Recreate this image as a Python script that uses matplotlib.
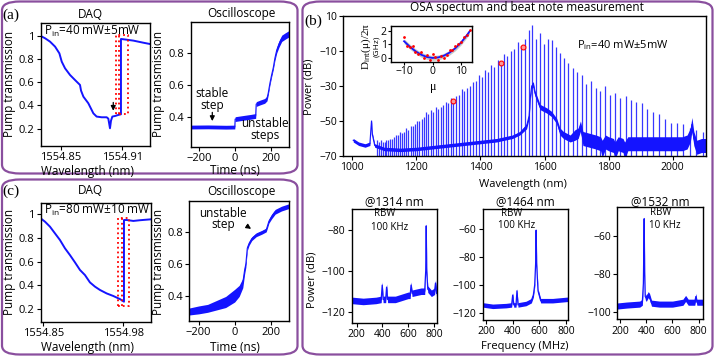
import matplotlib
matplotlib.use("Agg")
import matplotlib.pyplot as plt
from matplotlib.patches import FancyBboxPatch
import numpy as np

plt.rcParams['font.family'] = ['Open Sans', 'DejaVu Sans']
plt.rcParams['mathtext.fontset'] = 'custom'
plt.rcParams['mathtext.rm'] = 'Open Sans'
plt.rcParams['axes.linewidth'] = 1.0
plt.rcParams['axes.unicode_minus'] = True

# ---- data: (a) DAQ sweep, Pin = 40 mW ----
daq_a_wl = [1554.8305, 1554.8348, 1554.8396, 1554.8445, 1554.8487, 1554.8510, 1554.8542,
            1554.8591, 1554.8639, 1554.8688, 1554.8698, 1554.8721, 1554.8769, 1554.8818,
            1554.8850, 1554.8899, 1554.8948, 1554.8964, 1554.8980, 1554.8990, 1554.9003,
            1554.9029, 1554.9061, 1554.9087, 1554.9087, 1554.9116, 1554.9207, 1554.9304, 1554.9367]
daq_a_tr = [1.0, 0.980, 0.951, 0.908, 0.850, 0.778, 0.721, 0.663, 0.620, 0.577, 0.528, 0.476,
            0.419, 0.332, 0.304, 0.298, 0.298, 0.286, 0.203, 0.269, 0.304, 0.309, 0.318, 0.324,
            0.974, 0.971, 0.960, 0.942, 0.931]

# ---- (a) oscilloscope ----
osc_a_t = [-246, -150, -50, -1, 1, 30, 60, 90, 115, 118, 140, 165, 178, 185, 194, 203,
           213, 222, 232, 245, 260, 280, 302]
osc_a_y = [0.335, 0.336, 0.334, 0.335, 0.385, 0.39, 0.395, 0.40, 0.405, 0.48, 0.49, 0.50,
           0.515, 0.55, 0.61, 0.66, 0.71, 0.77, 0.82, 0.86, 0.895, 0.91, 0.925]
osc_a_w = [0.012, 0.012, 0.012, 0.012, 0.015, 0.015, 0.015, 0.015, 0.015, 0.015, 0.015, 0.015,
           0.015, 0.012, 0.012, 0.012, 0.012, 0.015, 0.018, 0.02, 0.02, 0.02, 0.02]

# ---- (c) DAQ sweep, Pin = 80 mW ----
daq_c_wl = [1554.8457, 1554.8527, 1554.8608, 1554.8690, 1554.8771, 1554.8852, 1554.8933,
            1554.9015, 1554.9096, 1554.9177, 1554.9258, 1554.9340, 1554.9421, 1554.9529,
            1554.9638, 1554.9746, 1554.9811, 1554.9811, 1554.9854, 1554.9963, 1555.0071, 1555.0255]
daq_c_tr = [0.966, 0.938, 0.896, 0.839, 0.783, 0.713, 0.656, 0.594, 0.530, 0.487, 0.425,
            0.389, 0.361, 0.332, 0.310, 0.284, 0.262, 0.952, 0.952, 0.944, 0.950, 0.958]

# ---- (c) oscilloscope ----
osc_c_t = [-252, -200, -150, -100, -50, 0, 25, 45, 55, 62, 70, 80, 95, 120, 150, 175,
           182, 190, 205, 225, 260, 300]
osc_c_y = [0.30, 0.31, 0.32, 0.34, 0.36, 0.40, 0.43, 0.48, 0.56, 0.60, 0.70, 0.73, 0.76,
           0.785, 0.80, 0.815, 0.84, 0.87, 0.90, 0.93, 0.95, 0.965]
osc_c_w = [0.022, 0.025, 0.025, 0.03, 0.035, 0.04, 0.035, 0.03, 0.025, 0.02, 0.015, 0.012,
           0.012, 0.012, 0.012, 0.012, 0.012, 0.012, 0.015, 0.015, 0.015, 0.015]

# ---- (b) OSA spectrum: comb lines ----
comb_wl = [2094.9, 2074.1, 2053.7, 2033.7, 2014.1, 1994.8, 1975.9, 1957.4, 1939.2, 1921.4,
           1903.8, 1886.7, 1869.8, 1853.2, 1836.9, 1820.8, 1805.1, 1789.6, 1774.4, 1759.4,
           1744.7, 1730.3, 1716.1, 1702.1, 1688.3, 1674.8, 1661.4, 1648.3, 1635.4, 1622.7,
           1610.2, 1597.8, 1585.7, 1573.8, 1562.0, 1550.4, 1538.9, 1527.7, 1516.6, 1505.7,
           1494.9, 1484.2, 1473.8, 1463.4, 1453.3, 1443.2, 1433.3, 1423.5, 1413.9, 1404.4,
           1395.0, 1385.7, 1376.6, 1367.6, 1358.7, 1349.9, 1341.2, 1332.7, 1324.2, 1315.9,
           1307.6, 1299.5, 1291.4, 1283.5, 1275.7, 1267.9, 1260.3, 1252.7, 1245.2, 1237.8,
           1230.5, 1223.3, 1216.2, 1209.2, 1202.2, 1195.3, 1188.5, 1181.8, 1175.1, 1168.5,
           1162.0, 1155.6, 1149.3, 1143.0, 1136.7, 1130.6, 1124.5, 1118.5, 1112.5, 1106.6,
           1100.8, 1095.0, 1089.3, 1083.6, 1078.0]
comb_db = [-56, -55, -54, -52, -51, -51, -49, -46, -45, -43,
           -40, -39, -38, -36, -37, -34, -35, -30, -33, -31,
           -27, -29, -24, -22, -20, -17, -14, -11, -8, -4,
           -3, -6, 0, -3, 5, 2, -3, -7, -5, -9,
           -10, -13, -12, -17, -15, -19, -18, -22, -21, -25,
           -24, -27, -28, -30, -31, -33, -32, -35, -36, -38,
           -37, -40, -39, -41, -42, -43, -42, -45, -44, -46,
           -45, -48, -49, -50, -50, -52, -53, -53, -55, -54,
           -56, -57, -56, -58, -58, -59, -60, -60, -61, -61,
           -62, -62, -61, -62, -61]

# OSA noise floor (centre and half spread)
floor_wl = [1003, 1020, 1040, 1055, 1058, 1060, 1063, 1070, 1100, 1150, 1200, 1250, 1300,
            1350, 1400, 1450, 1500, 1523, 1544, 1552, 1556, 1560, 1565, 1570, 1586, 1607,
            1622, 1638, 1648, 1659, 1680, 1695, 1705, 1712, 1720, 1740, 1760, 1775,
            1780, 1790, 1800, 1815, 1820, 1830, 1845, 1850, 1860, 1880, 1900, 1950, 2000,
            2030, 2045, 2055, 2060, 2066, 2075, 2090, 2104]
floor_db = [-61, -63, -64, -63, -55, -50, -58, -64, -66, -66.5, -66, -65, -64,
            -63, -62, -61, -59, -57, -53, -47, -36, -30, -29, -34, -42, -44,
            -46, -50, -56, -58, -60, -58, -57, -53, -60, -61, -62, -63,
            -66, -62, -63, -64, -67, -63, -64, -67, -63, -63, -63, -63, -63,
            -63, -62, -58, -52, -60, -65, -64, -64]
floor_sp = [1, 1, 1, 1, 1, 1, 1, 1, 1, 1, 1, 1, 1,
            1, 1, 1, 1, 1, 1.5, 1.5, 1.5, 1.5, 1.5, 1.5, 1.5, 1.5,
            1.5, 1.5, 2, 2, 2, 3, 3, 3, 4, 4, 4, 4,
            5, 4, 4, 4, 5, 4, 4, 5, 4, 4, 4, 4, 4,
            4, 4, 4, 4, 4, 4, 4, 4]

marker_wl = [1314, 1464, 1532]
marker_db = [-38.5, -17, -7.5]

# inset: integrated dispersion
mu_pts = [-10, -9, -8, -7, -6, -5, -4, -3, -2, -1, 0, 1, 2, 3, 4, 5, 6, 7, 8, 9, 10, 11, 12, 13]
dint_pts = [1.5, 0.9, 0.8, 0.9, 0.4, 0.3, 0.4, -0.05, 0.2, -0.2, 0.25, 0.05, -0.15, 0.15,
            0.0, 0.2, 0.55, 0.6, 0.9, 1.0, 1.2, 1.5, 1.7, 2.05]
mu_fit = [-10, -8, -6, -4, -2, 0, 2, 4, 6, 8, 10, 12, 13]
dint_fit = [1.22, 0.82, 0.48, 0.22, 0.05, -0.02, 0.02, 0.15, 0.38, 0.70, 1.12, 1.65, 1.95]

# beat notes
beat1_f = [165, 250, 350, 390, 398, 405, 425, 432, 440, 500, 600, 615, 622, 630, 700, 728,
           736, 740, 744, 752, 780, 805, 812, 820, 826]
beat1_p = [-114.5, -115, -114.5, -114, -107, -114, -114, -108, -114, -114, -112, -112, -107,
           -111, -110, -110, -100, -78, -100, -109, -111, -110, -106, -111, -110]
beat2_f = [175, 250, 350, 392, 400, 408, 425, 432, 440, 500, 540, 555, 565, 572, 576, 580,
           590, 610, 700, 815]
beat2_p = [-114, -115, -114.5, -114, -107, -114, -114, -104, -114, -113, -111, -107, -100,
           -85, -61, -85, -104, -111, -111, -110]
beat3_f = [179, 250, 350, 370, 378, 384, 388, 392, 400, 415, 425, 440, 500, 600, 680, 700,
           720, 770, 778, 786, 835]
beat3_p = [-97, -96.5, -96, -95, -85, -51, -80, -92, -93, -91, -92, -95.5, -96, -96, -95,
           -93, -95, -95, -92, -95, -95]

W, H = 715, 356
BLUE = '#1414ff'
PURPLE = '#8a4f9e'
fig = plt.figure(figsize=(W / 100, H / 100), dpi=100)


def px_axes(l, t, r, b):
    return fig.add_axes([l / W, 1 - b / H, (r - l) / W, (b - t) / H])


def ftext(x, y, s, **kw):
    kw.setdefault('ha', 'center')
    kw.setdefault('va', 'center')
    return fig.text(x / W, 1 - y / H, s, **kw)


def style(ax, fs):
    ax.tick_params(direction='out', length=3, width=0.8, labelsize=fs, pad=1.5)


# rounded frames
for (l, t, r, b) in [(2, 1.5, 297.5, 173.5), (2, 179.5, 297.5, 354.5), (302.5, 1.5, 712.5, 354.5)]:
    fig.patches.append(FancyBboxPatch((l / W, 1 - b / H), (r - l) / W, (b - t) / H,
                                      boxstyle='round,pad=0,rounding_size=0.025',
                                      transform=fig.transFigure, fill=False,
                                      edgecolor=PURPLE, linewidth=1.6))

# ---------- (a) ----------
ax = px_axes(40.7, 23, 149.7, 146)
ax.plot(daq_a_wl, daq_a_tr, color=BLUE, lw=1.4)
ax.plot([1554.9036, 1554.9036, 1554.9152, 1554.9152, 1554.9036],
        [0.324, 1.011, 1.011, 0.324, 0.324], color='red', ls=':', lw=1.3)
ax.plot([1554.9065, 1554.9065], [0.324, 1.011], color='red', ls=':', lw=1.3)
ax.annotate('', xy=(1554.9012, 0.33), xytext=(1554.9012, 0.45),
            arrowprops=dict(arrowstyle='-|>', color='k', lw=0.9, mutation_scale=7))
ax.set_xlim(1554.8305, 1554.9367)
ax.set_ylim(0.05, 1.112)
ax.set_xticks([1554.85, 1554.91], ['1554.85', '1554.91'])
ax.set_yticks([0.2, 0.4, 0.6, 0.8, 1.0], ['0.2', '0.4', '0.6', '0.8', '1'])
style(ax, 8)

ax = px_axes(190.7, 22, 289.3, 147)
lo = np.array(osc_a_y) - np.array(osc_a_w)
hi = np.array(osc_a_y) + np.array(osc_a_w)
ax.fill_between(osc_a_t, lo, hi, color=BLUE, lw=0)
ax.plot(osc_a_t, osc_a_y, color=BLUE, lw=0.8)
ax.annotate('', xy=(-126, 0.355), xytext=(-126, 0.445),
            arrowprops=dict(arrowstyle='-|>', color='k', lw=0.9, mutation_scale=7))
ax.set_xlim(-246, 302)
ax.set_ylim(0.209, 0.998)
ax.set_xticks([-200, 0, 200])
ax.set_yticks([0.4, 0.6, 0.8])
style(ax, 8)

ftext(11, 15, '(a)', family='Liberation Serif', fontsize=11)
ftext(90, 14, 'DAQ', fontsize=8.5)
ftext(241.7, 14, 'Oscilloscope', fontsize=8.5)
ftext(44, 31.5, r'P$_{\rm in}$=40 mW$\pm$5mW', ha='left', fontsize=8.5)
ftext(87.7, 171, 'Wavelength (nm)', fontsize=8.5)
ftext(235, 171, 'Time (ns)', fontsize=8.5)
ftext(9.3, 84, 'Pump transmission', rotation=90, fontsize=8.5)
ftext(158.3, 84, 'Pump transmission', rotation=90, fontsize=8.5)
ftext(211.7, 99.5, 'stable\nstep', fontsize=8.5, linespacing=0.82)
ftext(265, 129.5, 'unstable\nsteps', fontsize=8.5, linespacing=0.82)

# ---------- (c) ----------
ax = px_axes(40.7, 203.3, 151.3, 321.7)
ax.plot(daq_c_wl, daq_c_tr, color=BLUE, lw=1.4)
ax.plot([1554.9722, 1554.9722, 1554.9898, 1554.9898, 1554.9722],
        [0.225, 0.971, 0.971, 0.225, 0.225], color='red', ls=':', lw=1.3)
ax.plot([1554.9771, 1554.9771], [0.225, 0.971], color='red', ls=':', lw=1.3)
ax.set_xlim(1554.8458, 1555.0255)
ax.set_ylim(0.093, 1.093)
ax.set_xticks([1554.85, 1554.98], ['1554.85', '1554.98'])
ax.set_yticks([0.2, 0.4, 0.6, 0.8, 1.0], ['0.2', '0.4', '0.6', '0.8', '1'])
style(ax, 8)

ax = px_axes(189.3, 201, 288.7, 321)
lo = np.array(osc_c_y) - np.array(osc_c_w)
hi = np.array(osc_c_y) + np.array(osc_c_w)
ax.fill_between(osc_c_t, lo, hi, color=BLUE, lw=0)
ax.plot(osc_c_t, osc_c_y, color=BLUE, lw=0.8)
ax.annotate('', xy=(104, 0.812), xytext=(54, 0.85),
            arrowprops=dict(arrowstyle='-|>', color='k', lw=0.9, mutation_scale=7))
ax.set_xlim(-252, 300)
ax.set_ylim(0.24, 0.998)
ax.set_xticks([-200, 0, 200])
ax.set_yticks([0.4, 0.6, 0.8])
style(ax, 8)

ftext(11, 191, '(c)', family='Liberation Serif', fontsize=11)
ftext(90, 191, 'DAQ', fontsize=8.5)
ftext(241.7, 191, 'Oscilloscope', fontsize=8.5)
ftext(44, 210, r'P$_{\rm in}$=80 mW$\pm$10 mW', ha='left', fontsize=8.5)
ftext(87.7, 347.5, 'Wavelength (nm)', fontsize=8.5)
ftext(235, 347.5, 'Time (ns)', fontsize=8.5)
ftext(9.3, 262, 'Pump transmission', rotation=90, fontsize=8.5)
ftext(158.3, 262, 'Pump transmission', rotation=90, fontsize=8.5)
ftext(223.3, 219.3, 'unstable\nstep', fontsize=8.5, linespacing=0.82)

# ---------- (b) OSA ----------
ax = px_axes(343.3, 16, 706, 156)
ax.vlines(comb_wl, -70, comb_db, color=BLUE, lw=0.9, alpha=0.85)
fl = np.array(floor_db)
sp = np.array(floor_sp)
ax.fill_between(floor_wl, fl - sp, fl + sp, color=BLUE, lw=0)
ax.plot(floor_wl, fl, color=BLUE, lw=0.8)
ax.plot(marker_wl, marker_db, 'o', ms=3.5, mfc='#ff9999', mec='red', mew=0.8)
ax.set_xlim(972, 2104)
ax.set_ylim(-70, 10)
ax.set_xticks([1000, 1200, 1400, 1600, 1800, 2000])
ax.set_yticks([10, -10, -30, -50, -70])
style(ax, 7.5)

ins = px_axes(390.7, 26, 471.7, 62)
ins.fill_between(mu_fit, np.array(dint_fit) - 0.18, np.array(dint_fit) + 0.18,
                 color='#c8c8c8', lw=0)
ins.plot(mu_fit, dint_fit, color=BLUE, lw=1.3)
ins.plot(mu_pts, dint_pts, 'o', ms=2, color='red', mec='none')
ins.set_xlim(-14.7, 13.75)
ins.set_ylim(-0.32, 2.35)
ins.set_xticks([-10, 0, 10])
ins.set_yticks([0, 1, 2])
style(ins, 7.5)
ins.tick_params(length=2, pad=1)

ftext(313, 21.5, '(b)', family='Liberation Serif', fontsize=11)
ftext(526.7, 7.5, 'OSA spectum and beat note measurement', fontsize=8.5)
ftext(523, 185, 'Wavelength (nm)', fontsize=8)
ftext(309, 87, 'Power (dB)', rotation=90, fontsize=8)
ftext(576.7, 45, r'P$_{\rm in}$=40 mW$\pm$5mW', ha='left', fontsize=8)
ftext(433.3, 87, 'μ', fontsize=8.5, family='Liberation Serif')
ftext(366.5, 46, r'D$_{\rm int}$(μ)/2π', rotation=90, fontsize=8, family='Liberation Serif')
ftext(376.5, 46, '(GHz)', rotation=90, fontsize=6)

# ---------- beat notes ----------
beats = [(beat1_f, beat1_p, (351.7, 209.3, 437.3, 322.7), (161, 826), (-125.4, -69.9),
          [-120, -100, -80], '@1314 nm', 'RBW', '100 KHz', (385, 214), (390, 227.7)),
         (beat2_f, beat2_p, (482.7, 209.3, 568, 320), (175, 815), (-124.7, -46.2),
          [-120, -100, -80, -60], '@1464 nm', 'RBW', '100 KHz', (511.3, 214), (516.7, 226)),
         (beat3_f, beat3_p, (617.3, 207.3, 703.3, 319.3), (179, 835), (-104, -45),
          [-100, -80, -60], '@1532 nm', 'RBW', '10 KHz', (660.7, 212.7), (665, 226))]
for f, p, box, xl, yl, yt, title, t1, t2, p1, p2 in beats:
    ax = px_axes(*box)
    pa = np.array(p)
    ax.fill_between(f, pa - 1.6, pa + 1.6, color=BLUE, lw=0)
    ax.plot(f, pa, color=BLUE, lw=0.9)
    ax.set_xlim(*xl)
    ax.set_ylim(*yl)
    ax.set_xticks([200, 400, 600, 800])
    ax.set_yticks(yt)
    style(ax, 7.5)
    ftext((box[0] + box[2]) / 2, 202, title, fontsize=8.5)
    ftext(p1[0], p1[1], t1, fontsize=7)
    ftext(p2[0], p2[1], t2, fontsize=7)

ftext(525, 346.5, 'Frequency (MHz)', fontsize=8)
ftext(311.7, 280, 'Power (dB)', rotation=90, fontsize=8)

fig.savefig('out.png', dpi=100)
